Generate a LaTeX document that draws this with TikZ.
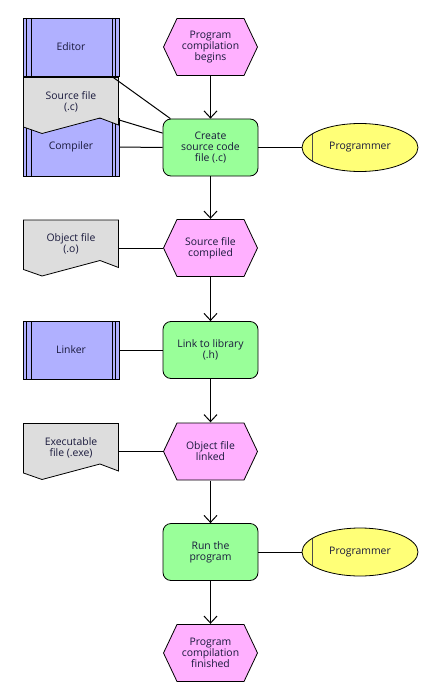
\documentclass[tikz,border=0pt]{standalone}
\usepackage{fontspec}
\setmainfont{Open Sans}
\usetikzlibrary{shapes.geometric,arrows.meta}

\definecolor{evtpink}{RGB}{255,176,255}
\definecolor{fungreen}{RGB}{153,255,153}
\definecolor{appblue}{RGB}{176,176,255}
\definecolor{docgrey}{RGB}{221,221,221}
\definecolor{orgyellow}{RGB}{255,255,119}
\definecolor{labelink}{RGB}{25,25,60}

\begin{document}
\begin{tikzpicture}
	[x=1pt, y=-1pt,
	every node/.style={font=\fontsize{10.4}{11}\selectfont, text=labelink, align=center},
	event/.style={minimum width=95pt, minimum height=58pt, inner sep=0pt,
		path picture={\draw[fill=evtpink, line width=.8pt]
			([xshift=.5pt]path picture bounding box.west)
			-- ([shift={(14pt,-.5pt)}]path picture bounding box.north west)
			-- ([shift={(-14pt,-.5pt)}]path picture bounding box.north east)
			-- ([xshift=-.5pt]path picture bounding box.east)
			-- ([shift={(-14pt,.5pt)}]path picture bounding box.south east)
			-- ([shift={(14pt,.5pt)}]path picture bounding box.south west) -- cycle;}},
	func/.style={draw, line width=.8pt, fill=fungreen, rounded corners=8pt,
		minimum width=95pt, minimum height=57pt, inner sep=0pt},
	appsys/.style={draw, line width=.8pt, fill=appblue, minimum width=96pt, minimum height=58pt,
		path picture={\draw[line width=.7pt]
			([xshift=3pt]path picture bounding box.north west) -- ([xshift=3pt]path picture bounding box.south west)
			([xshift=8pt]path picture bounding box.north west) -- ([xshift=8pt]path picture bounding box.south west)
			([xshift=-4pt]path picture bounding box.north east) -- ([xshift=-4pt]path picture bounding box.south east)
			([xshift=-7pt]path picture bounding box.north east) -- ([xshift=-7pt]path picture bounding box.south east);}},
	docu/.style={minimum width=96pt, minimum height=57pt, inner sep=2pt, text depth=9pt,
		path picture={\draw[fill=docgrey, line width=.8pt]
			([shift={(.5pt,-.5pt)}]path picture bounding box.north west)
			-- ([shift={(-.5pt,-.5pt)}]path picture bounding box.north east)
			-- ([shift={(-.5pt,-48pt)}]path picture bounding box.north east)
			-- ([shift={(77pt,-41pt)}]path picture bounding box.north west)
			-- ([shift={(19pt,-56.5pt)}]path picture bounding box.north west)
			-- ([shift={(.5pt,-50pt)}]path picture bounding box.north west) -- cycle;}},
	role/.style={ellipse, draw, line width=.8pt, fill=orgyellow, minimum width=116pt,
		minimum height=48pt, inner sep=0pt,
		path picture={\draw[line width=.8pt, black!70]
			([xshift=10pt]path picture bounding box.north west) -- ([xshift=10pt]path picture bounding box.south west);}},
	link/.style={line width=1pt},
	flow/.style={link, -{Straight Barb[length=7pt,width=13pt]}}]
	\useasboundingbox (0,0) rectangle (435,690);

	% resources on the left
	\node[appsys] (editor) at (71,47) {Editor};
	\node[appsys] (compiler) at (71,147) {Compiler};
	\node[docu] (srcfile) at (71,105.5) {Source file\\(.c)};
	\node[docu] (objfile) at (71,248) {Object file\\(.o)};
	\node[appsys] (linker) at (71,350) {Linker};
	\node[docu] (exefile) at (71,451.5) {Executable\\file (.exe)};

	% process chain
	\node[event] (begins) at (210.5,47) {Program\\compilation\\begins};
	\node[func] (create) at (210.5,147.5) {Create\\source code\\file (.c)};
	\node[event] (srccomp) at (210.5,248) {Source file\\compiled};
	\node[func] (linklib) at (210.5,350) {Link to library\\(.h)};
	\node[event] (objlinked) at (210.5,451.5) {Object file\\linked};
	\node[func] (runprog) at (210.5,552) {Run the\\program};
	\node[event] (finished) at (210.5,653) {Program\\compilation\\finished};

	\node[role] (coder1) at (360,147.5) {Programmer};
	\node[role] (coder2) at (360,552) {Programmer};

	% connections
	\draw[flow] (begins) -- (create);
	\draw[flow] (create) -- (srccomp);
	\draw[flow] (srccomp) -- (linklib);
	\draw[flow] (linklib) -- (objlinked);
	\draw[flow] (objlinked) -- (runprog);
	\draw[flow] (runprog) -- (finished);

	\draw[link] (editor) -- (create);
	\draw[link] (srcfile) -- (create);
	\draw[link] (compiler) -- (create);
	\draw[link] (create) -- (coder1);
	\draw[link] (objfile) -- (srccomp);
	\draw[link] (linker) -- (linklib);
	\draw[link] (exefile) -- (objlinked);
	\draw[link] (runprog) -- (coder2);
\end{tikzpicture}
\end{document}
